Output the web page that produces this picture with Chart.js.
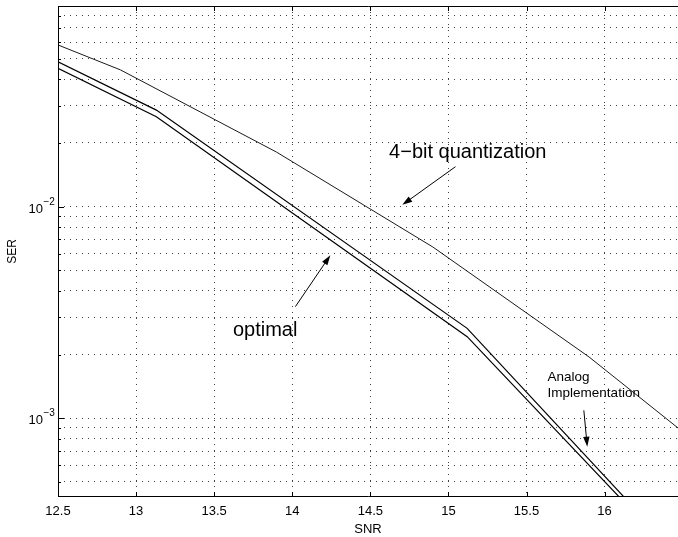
<!DOCTYPE html>
<html>
<head>
<meta charset="utf-8">
<script src="https://cdn.jsdelivr.net/npm/chart.js@4.4.0/dist/chart.umd.min.js"></script>
<style>
  html, body { margin: 0; padding: 0; background: #fff; }
</style>
</head>
<body>
<canvas id="myChart" width="678" height="537"></canvas>
<script>
// values (SNR in dB, SER on a log axis)
const snrOptimal = [12.5, 13.13, 15.12, 16.12];
const serOptimal = [0.0451, 0.0266, 0.00243, 0.000405];

const snrAnalog = [12.5, 13.13, 15.12, 16.15];
const serAnalog = [0.0484, 0.0286, 0.00266, 0.000405];

const snrFourBit = [12.5, 12.9, 13.9, 14.9, 15.9, 16.47];
const serFourBit = [0.0581, 0.0443, 0.0181, 0.00645, 0.00195, 0.0009];

const xTicks = [12.5, 13, 13.5, 14, 14.5, 15, 15.5, 16];
const yTicks = [5e-4, 6e-4, 7e-4, 8e-4, 9e-4, 1e-3, 2e-3, 3e-3, 4e-3, 5e-3, 6e-3, 7e-3, 8e-3, 9e-3,
                1e-2, 2e-2, 3e-2, 4e-2, 5e-2, 6e-2, 7e-2, 8e-2];
const yLabels = [1e-3, 1e-2];

// text notes and arrows, placed in data units
const notes = [
    { lines: ['4\u2212bit quantization'], x: 14.62, y: 0.0170, size: 20 },
    { lines: ['optimal'], x: 13.62, y: 0.00245, size: 20 },
    { lines: ['Analog', 'Implementation'], x: 15.635, y: 0.0015, size: 13.5 }
];
const arrows = [
    { from: [15.045, 0.01545], to: [14.705, 0.0102] },
    { from: [14.02, 0.00337], to: [14.244, 0.0059] },
    { from: [15.867, 0.00109], to: [15.889, 0.000734] }
];

const FONT = '"Liberation Sans", Arial, Helvetica, sans-serif';
Chart.defaults.font.family = FONT;
Chart.defaults.color = '#000';

function toXY(xs, ys) {
    return xs.map((v, i) => ({ x: v, y: ys[i] }));
}

function drawArrow(ctx, x1, y1, x2, y2) {
    const ang = Math.atan2(y2 - y1, x2 - x1);
    const len = 10, half = 3.2;
    const c = Math.cos(ang), s = Math.sin(ang);
    ctx.beginPath();
    ctx.moveTo(x1, y1);
    ctx.lineTo(x2 - len * 0.7 * c, y2 - len * 0.7 * s);
    ctx.stroke();
    ctx.beginPath();
    ctx.moveTo(x2, y2);
    ctx.lineTo(x2 - len * c + half * s, y2 - len * s - half * c);
    ctx.lineTo(x2 - len * c - half * s, y2 - len * s + half * c);
    ctx.closePath();
    ctx.fill();
}

const overlay = {
    id: 'overlay',
    afterDatasetsDraw(chart) {
        const { ctx, chartArea: a, scales: { x, y } } = chart;
        ctx.save();
        ctx.strokeStyle = '#000';
        ctx.fillStyle = '#000';
        ctx.lineWidth = 1;

        // axes box (right side runs off the picture)
        ctx.beginPath();
        ctx.moveTo(a.right, a.top + 0.5);
        ctx.lineTo(a.left + 0.5, a.top + 0.5);
        ctx.lineTo(a.left + 0.5, a.bottom - 0.5);
        ctx.lineTo(a.right, a.bottom - 0.5);
        ctx.stroke();

        // inward tick marks
        ctx.beginPath();
        xTicks.forEach(v => {
            const px = Math.round(x.getPixelForValue(v)) + 0.5;
            ctx.moveTo(px, a.bottom);
            ctx.lineTo(px, a.bottom - 5);
            ctx.moveTo(px, a.top);
            ctx.lineTo(px, a.top + 5);
        });
        yTicks.forEach(v => {
            const py = Math.round(y.getPixelForValue(v)) + 0.5;
            const major = yLabels.includes(v);
            ctx.moveTo(a.left, py);
            ctx.lineTo(a.left + (major ? 6 : 3), py);
        });
        ctx.stroke();

        // y tick labels, 10 with a raised exponent
        yLabels.forEach(v => {
            const py = y.getPixelForValue(v);
            const exp = Math.round(Math.log10(v));
            ctx.font = '13px ' + FONT;
            ctx.textAlign = 'right';
            ctx.textBaseline = 'alphabetic';
            ctx.fillText('10', a.left - 15, py + 6);
            ctx.font = '10px ' + FONT;
            ctx.textAlign = 'left';
            ctx.fillText('\u2212' + Math.abs(exp), a.left - 14.5, py - 2);
        });

        // notes
        notes.forEach(n => {
            const px = x.getPixelForValue(n.x);
            const py = y.getPixelForValue(n.y);
            ctx.font = n.size + 'px ' + FONT;
            ctx.textAlign = 'left';
            ctx.textBaseline = 'alphabetic';
            n.lines.forEach((t, i) => ctx.fillText(t, px, py + i * n.size * 1.18));
        });
        ctx.lineWidth = 1;
        arrows.forEach(ar => {
            drawArrow(ctx,
                x.getPixelForValue(ar.from[0]), y.getPixelForValue(ar.from[1]),
                x.getPixelForValue(ar.to[0]), y.getPixelForValue(ar.to[1]));
        });
        ctx.restore();
    }
};

const gridStyle = {
    color: 'rgba(0,0,0,0.75)',
    lineWidth: 1,
    drawTicks: false
};

new Chart(document.getElementById('myChart').getContext('2d'), {
    type: 'line',
    data: {
        datasets: [
            {
                label: 'optimal',
                data: toXY(snrOptimal, serOptimal),
                borderColor: '#000',
                borderWidth: 1.2,
                pointRadius: 0,
                fill: false
            },
            {
                label: 'Analog Implementation',
                data: toXY(snrAnalog, serAnalog),
                borderColor: '#000',
                borderWidth: 1.2,
                pointRadius: 0,
                fill: false
            },
            {
                label: '4-bit quantization',
                data: toXY(snrFourBit, serFourBit),
                borderColor: '#000',
                borderWidth: 0.9,
                pointRadius: 0,
                fill: false
            }
        ]
    },
    options: {
        responsive: false,
        animation: false,
        events: [],
        layout: { padding: { top: 6, left: 0, right: 0, bottom: 0 } },
        plugins: {
            legend: { display: false },
            tooltip: { enabled: false }
        },
        scales: {
            x: {
                type: 'linear',
                min: 12.5,
                max: 16.47,
                afterBuildTicks: scale => { scale.ticks = xTicks.map(v => ({ value: v })); },
                afterFit: scale => { scale.height = 40; },
                grid: gridStyle,
                border: { display: false, dash: [1, 5] },
                ticks: {
                    font: { size: 13 },
                    color: '#000',
                    padding: 7,
                    maxRotation: 0,
                    autoSkip: false,
                    callback: value => String(value)
                },
                title: {
                    display: true,
                    text: 'SNR',
                    font: { size: 13 },
                    color: '#000',
                    padding: { top: 0, bottom: 0 }
                }
            },
            y: {
                type: 'logarithmic',
                min: 0.0004246,
                max: 0.0888,
                afterBuildTicks: scale => { scale.ticks = yTicks.map(v => ({ value: v })); },
                afterFit: scale => { scale.width = 58; },
                grid: gridStyle,
                border: { display: false, dash: [1, 5] },
                ticks: { display: false },
                title: {
                    display: true,
                    text: 'SER',
                    font: { size: 12 },
                    color: '#000',
                    padding: { top: 5, bottom: 0 }
                }
            }
        }
    },
    plugins: [overlay]
});
</script>
</body>
</html>
